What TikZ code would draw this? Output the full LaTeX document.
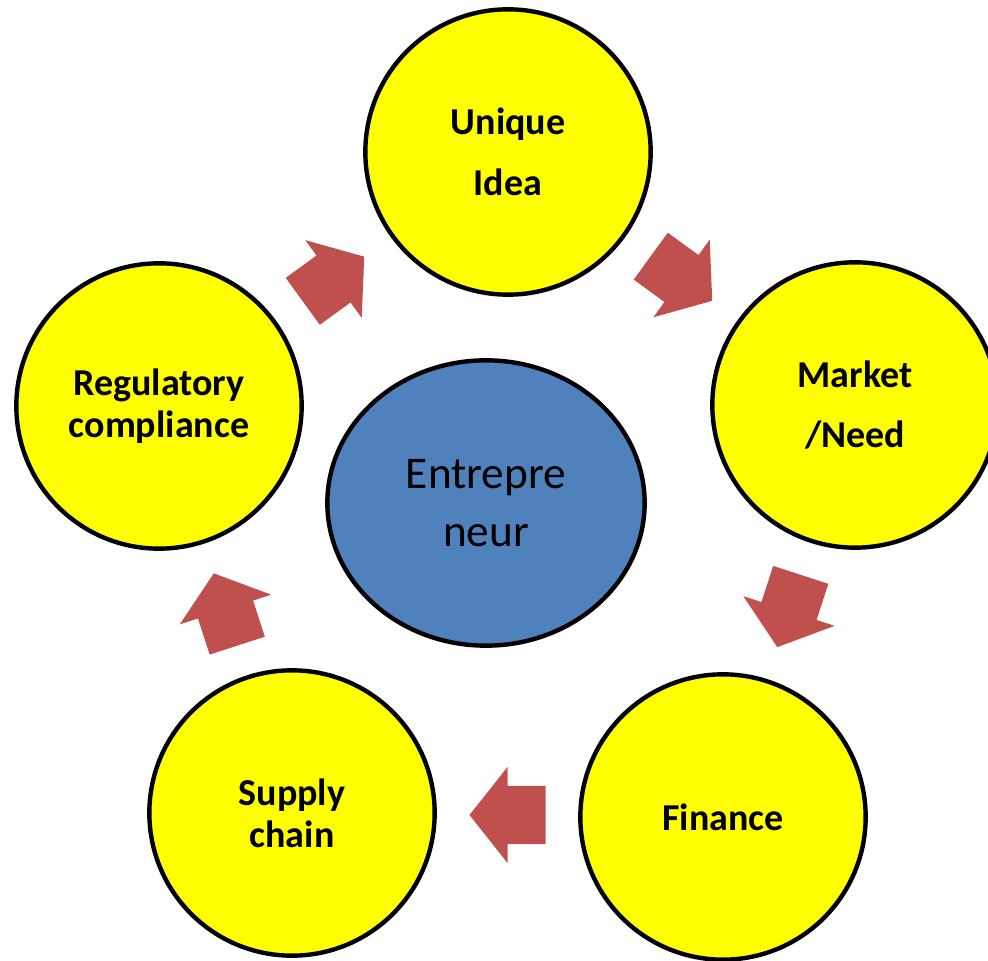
\documentclass[tikz,border=0pt]{standalone}
\usepackage{fontspec}
\setmainfont{Carlito}
\usepackage{tikz}
\usetikzlibrary{calc}
\usetikzlibrary{shapes.geometric}
\definecolor{kiiro}{HTML}{FFFF00}
\definecolor{azul}{HTML}{4F81BD}
\definecolor{rojo}{HTML}{C0504D}

\begin{document}
\begin{tikzpicture}[x=0.75pt,y=0.75pt,
    maru/.style={circle,draw=black,line width=3.3pt,fill=kiiro,minimum size=214pt,align=center,
      font=\fontsize{28.5}{31.5}\selectfont\bfseries},
    naka/.style={ellipse,draw=black,line width=3.3pt,fill=azul,minimum width=238pt,minimum height=214pt,
      align=center,font=\fontsize{34}{43.5}\selectfont},
    yaji/.style={fill=rojo}]

          \useasboundingbox (0,0) rectangle (988,960); %画像の範囲
          \node[naka] (EN) at (486,457) {Entrepre\\neur}; %中心
          \node[maru] (UI) at (508,808) {Unique\\[14pt]Idea}; %上
          \node[maru] (MN) at (855,555) {Market\\[14pt]/Need}; %右
          \node[maru] (FI) at (723,143) {Finance}; %右下
          \node[maru] (SC) at (292,147) {Supply\\chain}; %左下
          \node[maru] (RC) at (159,554) {Regulatory\\compliance}; %左
          \foreach \P/\Q/\A in {RC/UI/36,UI/MN/-36,MN/FI/-108,FI/SC/180,SC/RC/108}
            \fill[yaji,shift={($(\P)!0.5!(\Q)$)},rotate=\A]
              (-38,-29) -- (0,-29) -- (0,-48) -- (38,0) -- (0,48) -- (0,29) -- (-38,29) -- cycle; %矢印

        \end{tikzpicture}
\end{document}
